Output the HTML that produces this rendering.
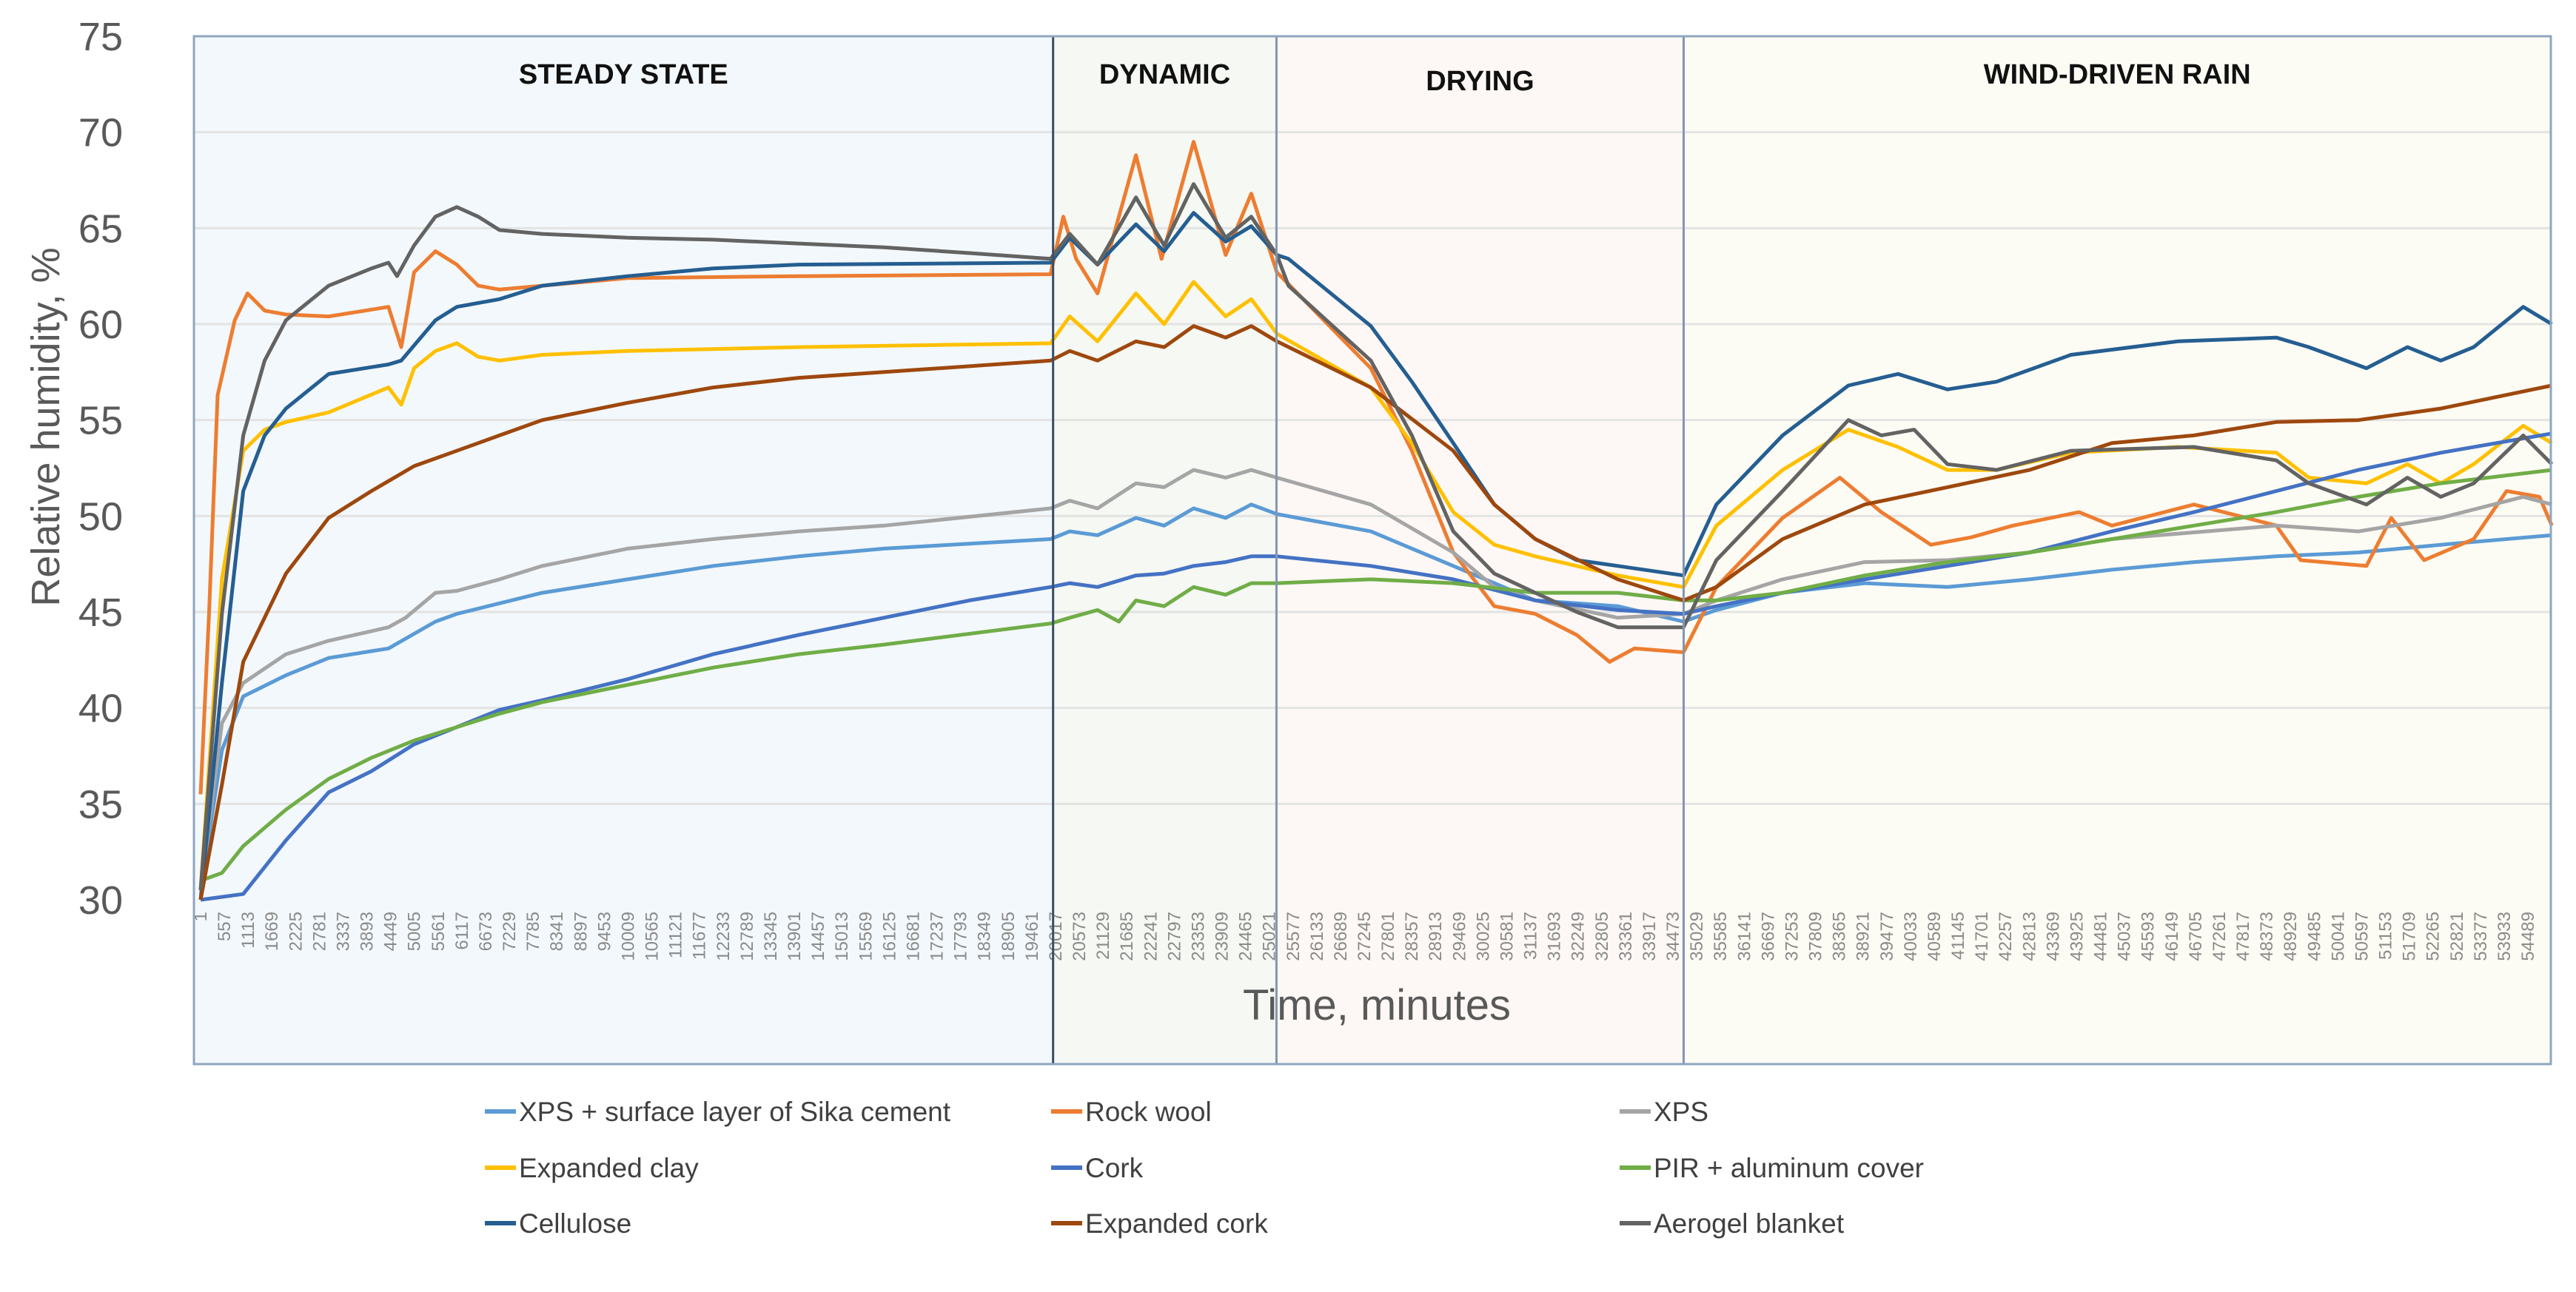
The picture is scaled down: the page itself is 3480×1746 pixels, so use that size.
<!DOCTYPE html>
<html><head><meta charset="utf-8"><style>
html,body{margin:0;padding:0;background:#fff;}
svg{display:block;font-family:"Liberation Sans",sans-serif;}
</style></head><body>
<svg id="chart" width="3480" height="1746" viewBox="0 0 3480 1746">
<g id="bg"></g><g id="grid"></g><g id="series"></g><g id="axes"></g><g id="legend"></g>
</svg>
<script>
const yTicks=[30,35,40,45,50,55,60,65,70,75];
const sectionNames=["STEADY STATE","DYNAMIC","DRYING","WIND-DRIVEN RAIN"];
const sectionBounds=[0,19960,25190,34723,55040];
const seriesNames=["XPS + surface layer of Sika cement","Rock wool","XPS","Expanded clay","Cork","PIR + aluminum cover","Cellulose","Expanded cork","Aerogel blanket"];
const seriesColors=["#5b9bd5","#ed7d31","#a5a5a5","#ffc000","#4472c4","#70ad47","#255e91","#9e480e","#636363"];
const dynT=[20000,20350,21000,21900,22560,23250,24000,24600,25200];
const dryT=[25470,27400,28360,29330,30290,31250,32220,33180,34720];
const windT=[35490,37040,38580,39740,40900,42050,43790,46290,48600,49360,50710,51670,52450,53220,54380,55050];
const sikaT=[1,500,1000,2000,3000,4400,5500,6000,8000,10000,12000,14000,16000,19900].concat(dynT.slice(1),[27400,29330,31250,33180,34720,35490,37040,38960,40900,42820,44750,46670,48600,50520,52450,55050]);
const sikaV=[30.5,37.8,40.6,41.7,42.6,43.1,44.5,44.9,46,46.7,47.4,47.9,48.3,48.8, 49.2,49,49.9,49.5,50.4,49.9,50.6,50.1, 49.2,47.4,45.6,45.3,44.5, 45.1,46,46.5,46.3,46.7,47.2,47.6,47.9,48.1,48.5,49];
const rockT=[1,200,400,800,1100,1500,2000,3000,4400,4700,5000,5500,6000,6500,7000,8000,10000,14000,19900,20200,20500,21000,21900,22500,23250,24000,24600,25200,27400,28360,29330,30290,31250,32220,32990,33570,34720,35490,37040,38380,39350,40510,41470,42430,43980,44750,46670,48600,49170,50710,51290,52060,53220,53990,54760,55050];
const rockV=[35.5,45,56.3,60.2,61.6,60.7,60.5,60.4,60.9,58.8,62.7,63.8,63.1,62,61.8,62,62.4,62.5,62.6,65.6,63.4,61.6,68.8,63.4,69.5,63.6,66.8,62.7,57.7,53.4,48.1,45.3,44.9,43.8,42.4,43.1,42.9,46.3,49.9,52,50.2,48.5,48.9,49.5,50.2,49.5,50.6,49.5,47.7,47.4,49.9,47.7,48.8,51.3,51,49.5];
const xpsT=[1,500,1000,2000,3000,4400,4800,5500,6000,7000,8000,10000,12000,14000,16000,19900].concat(dynT.slice(1),[27400,29330,30290,31250,33180,34720,35490,37040,38960,40900,42820,44750,48600,50520,52450,54380,55050]);
const xpsV=[30.5,39.2,41.3,42.8,43.5,44.2,44.7,46,46.1,46.7,47.4,48.3,48.8,49.2,49.5,50.4, 50.8,50.4,51.7,51.5,52.4,52,52.4,52, 50.6,48.1,46.3,45.6,44.7,44.9, 45.6,46.7,47.6,47.7,48.1,48.8,49.5,49.2,49.9,51,50.6];
const clayT=[1,500,1000,1500,2000,3000,4400,4700,5000,5500,6000,6500,7000,8000,10000,14000,19900].concat(dynT.slice(1),[27400,28360,29330,30290,31250,33180,34720],windT);
const clayV=[30.5,46.7,53.4,54.5,54.9,55.4,56.7,55.8,57.7,58.6,59,58.3,58.1,58.4,58.6,58.8,59, 60.4,59.1,61.6,60,62.2,60.4,61.3,59.5, 56.7,53.8,50.2,48.5,47.9,46.9,46.3, 49.5,52.4,54.5,53.6,52.4,52.4,53.3,53.6,53.3,52,51.7,52.7,51.7,52.7,54.7,53.8];
const corkT=[1,1000,2000,3000,4000,5000,6000,7000,8000,10000,12000,14000,16000,18000,19900].concat(dynT.slice(1),[27400,29330,31250,33180,34720,35490,37040,38960,40900,42820,44750,46670,48600,50520,52450,55050]);
const corkV=[30,30.3,33.1,35.6,36.7,38.1,39,39.9,40.4,41.5,42.8,43.8,44.7,45.6,46.3, 46.5,46.3,46.9,47,47.4,47.6,47.9,47.9, 47.4,46.7,45.6,45.1,44.9, 45.3,46,46.7,47.4,48.1,49.2,50.2,51.3,52.4,53.3,54.3];
const pirT=[1,500,1000,2000,3000,4000,5000,6000,7000,8000,10000,12000,14000,16000,19900,20350,21000,21500,21900,22560,23250,24000,24600,25200,27400,29330,31250,33180,34720,35490,37040,38960,40900,42820,44750,46670,48600,50520,52450,55050];
const pirV=[31,31.4,32.8,34.7,36.3,37.4,38.3,39,39.7,40.3,41.2,42.1,42.8,43.3,44.4,44.7,45.1,44.5,45.6,45.3,46.3,45.9,46.5,46.5,46.7,46.5,46,46,45.6,45.6,46,46.9,47.6,48.1,48.8,49.5,50.2,51,51.7,52.4];
const celT=[1,500,1000,1500,2000,3000,4400,4700,5500,6000,7000,8000,10000,12000,14000,19900].concat(dynT.slice(1),dryT,windT);
const celV=[30,41.3,51.3,54.2,55.6,57.4,57.9,58.1,60.2,60.9,61.3,62,62.5,62.9,63.1,63.2, 64.5,63.1,65.2,63.8,65.8,64.3,65.1,63.6, 63.4,59.9,57,53.8,50.6,48.8,47.7,47.4,46.9, 50.6,54.2,56.8,57.4,56.6,57,58.4,59.1,59.3,58.8,57.7,58.8,58.1,58.8,60.9,60];
const ecorkT=[1,500,1000,2000,3000,4000,5000,6000,7000,8000,10000,12000,14000,16000,19900].concat(dynT.slice(1),[27400,29330,30290,31250,33180,34720,35490,37040,38960,40900,42820,44750,46670,48600,50520,52450,55050]);
const ecorkV=[30,36,42.4,47,49.9,51.3,52.6,53.4,54.2,55,55.9,56.7,57.2,57.5,58.1, 58.6,58.1,59.1,58.8,59.9,59.3,59.9,59.1, 56.7,53.4,50.6,48.8,46.7,45.6, 46.3,48.8,50.6,51.5,52.4,53.8,54.2,54.9,55,55.6,56.8];
const aeroT=[1,500,1000,1500,2000,3000,4000,4400,4600,5000,5500,6000,6500,7000,8000,10000,12000,14000,16000,18000,19900].concat(dynT.slice(1),dryT,[35490,37040,38580,39350,40120,40900,42050,43790,46670,48600,49360,50710,51670,52450,53220,54380,55050]);
const aeroV=[30.5,44.9,54.2,58.1,60.2,62,62.9,63.2,62.5,64.1,65.6,66.1,65.6,64.9,64.7,64.5,64.4,64.2,64,63.7,63.4, 64.7,63.1,66.6,64.1,67.3,64.5,65.6,63.6, 62,58.1,54.2,49.2,47,46,45,44.2,44.2, 47.7,51.3,55,54.2,54.5,52.7,52.4,53.4,53.6,52.9,51.7,50.6,52,51,51.7,54.2,52.7];
const allT=[sikaT,rockT,xpsT,clayT,corkT,pirT,celT,ecorkT,aeroT];
const allV=[sikaV,rockV,xpsV,clayV,corkV,pirV,celV,ecorkV,aeroV];

const NS="http://www.w3.org/2000/svg";
const PL=262,PR=3446,PT=49,PB=1438;
const X0=271,X1=3415,T0=1,T1=54489;
const Y30=1216,Y75=49;
function xs(t){return X0+(t-T0)/(T1-T0)*(X1-X0);}
function ys(v){return Y30+(v-30)/(75-30)*(Y75-Y30);}
function mk(tag,attrs,parent){const e=document.createElementNS(NS,tag);for(const k in attrs)e.setAttribute(k,attrs[k]);parent.appendChild(e);return e;}
const bg=document.getElementById('bg'),grid=document.getElementById('grid'),ser=document.getElementById('series'),axes=document.getElementById('axes'),leg=document.getElementById('legend');
const secFill=["#f3f8fc","#f5f8f3","#fdf8f5","#fdfcf4"];
for(let i=0;i<4;i++){
 const a=i==0?PL:xs(sectionBounds[i]),b=i==3?PR:xs(sectionBounds[i+1]);
 const r=mk('rect',{x:a,y:PT,width:b-a,height:PB-PT,fill:secFill[i]},bg);
 
 
 const tx=mk('text',{x:(a+b)/2,y:i==2?122:113,'text-anchor':'middle','font-size':38,'font-weight':'bold',fill:'#111'},bg);
 tx.textContent=sectionNames[i];
 
 
}
yTicks.forEach(v=>{
 if(v>30&&v<75){const l=mk('line',{x1:PL,x2:PR,y1:ys(v),y2:ys(v),stroke:'#e3e3e3','stroke-width':3},grid);
 
 }
 const t=mk('text',{x:166,y:ys(v)+19,'text-anchor':'end','font-size':54,fill:'#595959'},axes);
 t.textContent=v;
 
 
});
for(let k=0;k<=98;k++){
 const tv=1+556*k;const x=xs(tv);
 const t=mk('text',{x:0,y:0,transform:`translate(${x+8},1232) rotate(-90)`,'text-anchor':'end','font-size':24,fill:'#8a8a8a'},axes);
 t.textContent=tv;
 
 
}
allT.forEach((T,i)=>{
 const pts=T.map((t,j)=>xs(t).toFixed(1)+','+ys(allV[i][j]).toFixed(1)).join(' ');
 const p=mk('polyline',{points:pts,fill:'none',stroke:seriesColors[i],'stroke-width':5,'stroke-linejoin':'round'},ser);
 
 
});
[[sectionBounds[1],'#3b4e68'],[sectionBounds[2],'#8396b0'],[sectionBounds[3],'#8396b0']].forEach(d=>{
 const l=mk('line',{x1:xs(d[0]),x2:xs(d[0]),y1:PT,y2:PB,stroke:d[1],'stroke-width':3},axes);
 
 
});
const bd=mk('rect',{x:PL,y:PT,width:PR-PL,height:PB-PT,fill:'none',stroke:'#8fa6c0','stroke-width':3},axes);


const xt=mk('text',{x:1860,y:1378,'text-anchor':'middle','font-size':58,fill:'#595959'},axes);
xt.textContent='Time, minutes';


const yt=mk('text',{x:0,y:0,transform:'translate(80,577) rotate(-90)','text-anchor':'middle','font-size':54,fill:'#595959'},axes);
yt.textContent='Relative humidity, %';


const colX=[655,1420,2188],rowY=[1502,1578,1653];
seriesNames.forEach((n,i)=>{
 const c=i%3,r=Math.floor(i/3);
 const g=mk('g',{},leg);
 
 
 mk('line',{x1:colX[c],x2:colX[c]+42,y1:rowY[r],y2:rowY[r],stroke:seriesColors[i],'stroke-width':6},g);
 const t=mk('text',{x:colX[c]+46,y:rowY[r]+13,'font-size':37,fill:'#404040'},g);
 t.textContent=n;
});
</script>
</body></html>
